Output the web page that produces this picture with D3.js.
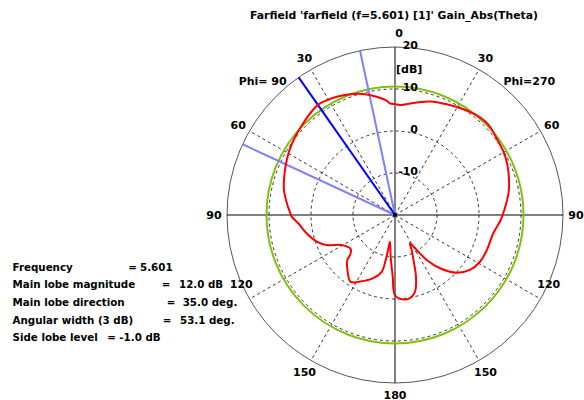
<!DOCTYPE html>
<html><head><meta charset="utf-8">
<script src="https://cdn.jsdelivr.net/npm/d3@7"></script>
<style>
html,body{margin:0;padding:0;background:#fff;}
svg{display:block;}
text{font-family:"DejaVu Sans",sans-serif;font-weight:bold;fill:#000;}
</style>
</head><body>
<svg id="chart" width="584" height="400"></svg>
<script>
// ---------------- data ----------------
const titleText = "Farfield 'farfield (f=5.601) [1]' Gain_Abs(Theta)";

// Phi = 90 cut (drawn on the left half), theta in degrees, gain in dB
const thetaPhi90 = [0, 2.6, 4.2, 8.8, 14.7, 20.4, 26.2, 32, 35, 38.3, 45, 51.9, 58.4, 64.6, 71, 77.3, 83.8, 87.5, 90.9, 94.9, 101.7, 108.8, 113.7, 119.4, 127.7, 131.6, 133.3, 140.2, 146.4, 152.3, 161.1, 166.8, 168.3, 168.9, 169.5, 174.1, 177.9, 180];
const gainPhi90  = [6.4, 6.6, 7.3, 8.5, 9.8, 10.7, 11.4, 11.9, 12.0, 11.7, 10.9, 10.2, 9.5, 8.7, 7.9, 7.1, 5.9, 5.2, 4.6, 3.1, 1.5, -0.3, -2.2, -5.4, -6.7, -5.7, -4.4, -2.4, -0.9, -2.1, -4.1, -6.1, -9.0, -12.1, -13.5, -10.0, -5.3, -0.9];

// Phi = 270 cut (drawn on the right half)
const thetaPhi270 = [0, 2.6, 4.3, 7, 10.9, 17.2, 25, 32.9, 39.2, 44, 48, 53, 59.7, 66, 72.9, 79.2, 86.5, 92.7, 100.5, 110.9, 118.8, 126.3, 133.1, 139.8, 144.8, 148.2, 152.1, 154.5, 158.5, 161.2, 165.4, 169.8, 174.4, 180];
const gainPhi270  = [6.4, 6.2, 6.3, 6.7, 7.3, 8.3, 9.1, 10.0, 10.7, 10.95, 10.8, 10.3, 9.9, 9.3, 8.4, 7.5, 6.2, 5.2, 3.8, 3.4, 3.1, 2.1, 0.1, -3.4, -6.9, -10.2, -12.4, -10.8, -7.6, -4.5, -1.1, 0.1, 0.2, -0.9];

const radialDomain = [-20, 20];
const ringLevels = [-10, 0, 10];
const dbTickValues = [20, 10, 0, -10];
const dbUnitLabel = "[dB]";
const angleTicks = [0, 30, 60, 90, 120, 150, 180];
const spokeAngles = [30, 60, 120, 150];
const phiLabels = ["Phi= 90", "Phi=270"];
const mainLobeDirection = 35;        // deg, on the Phi=90 side
const beamEdgeAngles = [12.0, 65.1]; // 3 dB edges, Phi=90 side
const referenceLevelDb = 10.6;       // green circle

const infoLabels = ["Frequency", "Main lobe magnitude", "Main lobe direction", "Angular width (3 dB)", "Side lobe level"];
const infoValues = ["5.601", "12.0 dB", "35.0 deg.", "53.1 deg.", "-1.0 dB"];

// ---------------- layout ----------------
const svg = d3.select("#chart");
const cx = 395, cy = 215, R = 168;
const rScale = d3.scaleLinear().domain(radialDomain).range([0, R]);
const rad = d => d * Math.PI / 180;
const px = (a, r) => cx + r * Math.sin(rad(a));
const py = (a, r) => cy - r * Math.cos(rad(a));

svg.append("rect").attr("width", 584).attr("height", 400).attr("fill", "#fff");

const g = svg.append("g");

// dashed rings
g.selectAll("circle.ring").data(ringLevels).join("circle")
  .attr("class", "ring").attr("cx", cx).attr("cy", cy)
  .attr("r", d => rScale(d)).attr("fill", "none")
  .attr("stroke", "#333").attr("stroke-width", 1).attr("stroke-dasharray", "3,3");

// dashed spokes
const spokes = spokeAngles.flatMap(a => [a, -a]);
g.selectAll("line.spoke").data(spokes).join("line")
  .attr("class", "spoke")
  .attr("x1", cx).attr("y1", cy)
  .attr("x2", d => px(d, R - 3)).attr("y2", d => py(d, R - 3))
  .attr("stroke", "#333").attr("stroke-width", 1).attr("stroke-dasharray", "3,3");

// outer circle
g.append("circle").attr("cx", cx).attr("cy", cy).attr("r", rScale(radialDomain[1]))
  .attr("fill", "none").attr("stroke", "#555").attr("stroke-width", 1);

// axes
g.append("line").attr("x1", cx - R).attr("x2", cx + R).attr("y1", cy).attr("y2", cy)
  .attr("stroke", "#000").attr("stroke-width", 1);
g.append("line").attr("x1", cx).attr("x2", cx).attr("y1", cy - R).attr("y2", cy + R)
  .attr("stroke", "#000").attr("stroke-width", 1);

// reference (green) circle
g.append("circle").attr("cx", cx).attr("cy", cy).attr("r", rScale(referenceLevelDb))
  .attr("fill", "none").attr("stroke", "#80c010").attr("stroke-width", 2);

// beam edges (light blue) and main lobe (blue)
g.selectAll("line.edge").data(beamEdgeAngles).join("line")
  .attr("class", "edge")
  .attr("x1", cx).attr("y1", cy)
  .attr("x2", d => px(-d, R)).attr("y2", d => py(-d, R))
  .attr("stroke", "#8080ff").attr("stroke-width", 2);
g.append("line")
  .attr("x1", cx).attr("y1", cy)
  .attr("x2", px(-mainLobeDirection, R)).attr("y2", py(-mainLobeDirection, R))
  .attr("stroke", "#0000ff").attr("stroke-width", 2);

// red pattern curve
const pts = [];
for (let i = thetaPhi90.length - 1; i >= 0; i--) pts.push({a: -thetaPhi90[i], v: gainPhi90[i]});
for (let i = 1; i < thetaPhi270.length - 1; i++) pts.push({a: thetaPhi270[i], v: gainPhi270[i]});
const radial = d3.lineRadial()
  .angle(d => rad(d.a))
  .radius(d => rScale(d.v))
  .curve(d3.curveCatmullRomClosed.alpha(0.5));
g.append("path").attr("transform", `translate(${cx},${cy})`)
  .attr("d", radial(pts)).attr("fill", "none")
  .attr("stroke", "#ff0000").attr("stroke-width", 2).attr("stroke-linejoin", "round");

// center dot
g.append("circle").attr("cx", cx).attr("cy", cy).attr("r", 2).attr("fill", "#000");

// ---------------- texts ----------------
svg.append("text").attr("x", 394).attr("y", 19.3).attr("text-anchor", "middle")
  .attr("textLength", 288).attr("lengthAdjust", "spacingAndGlyphs")
  .style("font-size", "11.3px").text(titleText);

// dB labels
svg.selectAll("text.db").data(dbTickValues).join("text")
  .attr("class", "db").attr("x", cx + 23).attr("y", d => cy - rScale(d) + 1.5)
  .attr("text-anchor", "end").style("font-size", "11px").text(d => d);
svg.append("text").attr("x", cx + 1)
  .attr("y", cy - (rScale(20) + rScale(10)) / 2 + 4.5)
  .style("font-size", "11px").text(dbUnitLabel);

// angle labels
const angleLabelData = [];
angleTicks.forEach(t => {
  if (t === 0 || t === 180) angleLabelData.push({a: t, t});
  else { angleLabelData.push({a: -t, t}); angleLabelData.push({a: t, t}); }
});
svg.selectAll("text.ang").data(angleLabelData).join("text")
  .attr("class", "ang")
  .attr("x", d => px(d.a, 181) + (d.t === 0 ? 4 : 0) + (d.t === 120 ? (d.a < 0 ? 3 : -3) : 0))
  .attr("y", d => py(d.a, 181) + 4 + (d.t === 120 ? -21.5 : 0) + (d.t === 0 ? -1 : 0) + (d.t === 180 ? -1 : 0))
  .attr("text-anchor", "middle").style("font-size", "11px").text(d => d.t);

// Phi labels
svg.selectAll("text.phi").data(phiLabels).join("text")
  .attr("class", "phi")
  .attr("x", (d, i) => px(i === 0 ? -45 : 45, 190) + (i === 0 ? 2 : 0))
  .attr("y", (d, i) => py(i === 0 ? -45 : 45, 190) + 4)
  .attr("text-anchor", "middle").attr("xml:space", "preserve")
  .style("font-size", "11px").style("white-space", "pre").text(d => d);

// info block
const infoY0 = 270.7, infoDy = 17.6;
const eqX = [128.3, 161.7, 166.7, 162.7, 107.3];
const valX = [140, 179, 182.7, 180, 119.3];
const infoSize = "10.3px";
const info = svg.append("g");
infoLabels.forEach((lab, i) => {
  const y = infoY0 + i * infoDy;
  info.append("text").attr("x", 12.5).attr("y", y).style("font-size", infoSize).text(lab);
  info.append("text").attr("x", eqX[i]).attr("y", y).style("font-size", infoSize).text("=");
  info.append("text").attr("x", valX[i]).attr("y", y).style("font-size", infoSize).text(infoValues[i]);
});
</script>
</body></html>
